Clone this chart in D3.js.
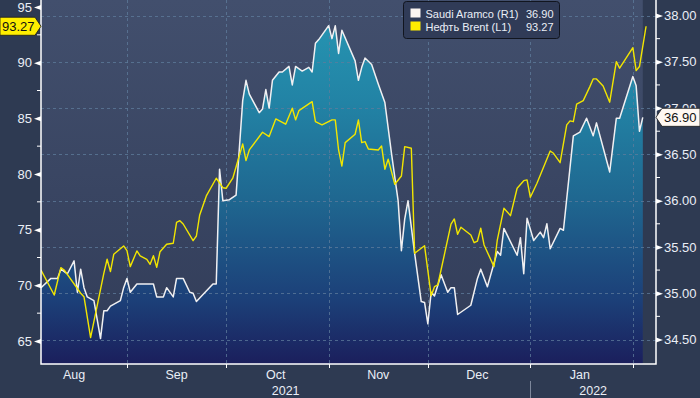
<!DOCTYPE html>
<html>
<head>
<meta charset="utf-8">
<script src="https://cdn.jsdelivr.net/npm/d3@7"></script>
<style>
  html, body { margin: 0; padding: 0; background: #2e3a52; }
  svg { display: block; font-family: "Liberation Sans", Arial, sans-serif; }
</style>
</head>
<body>
<div id="chart"></div>
<script>
// Saudi Aramco (right axis)
var aramcoDates = [
  "2021-08-06","2021-08-09","2021-08-11","2021-08-12","2021-08-14","2021-08-16","2021-08-17","2021-08-18",
  "2021-08-19","2021-08-20","2021-08-22","2021-08-24","2021-08-25","2021-08-26","2021-08-27","2021-08-30",
  "2021-08-31","2021-09-01","2021-09-02","2021-09-04","2021-09-09","2021-09-10","2021-09-12","2021-09-13",
  "2021-09-15","2021-09-16","2021-09-18","2021-09-20","2021-09-21","2021-09-22","2021-09-27","2021-09-28",
  "2021-09-29","2021-09-30","2021-10-02","2021-10-04","2021-10-06","2021-10-07","2021-10-08","2021-10-11",
  "2021-10-12","2021-10-13","2021-10-14","2021-10-15","2021-10-17","2021-10-18","2021-10-20","2021-10-21",
  "2021-10-22","2021-10-24","2021-10-26","2021-10-27","2021-10-28","2021-10-29","2021-11-01","2021-11-02",
  "2021-11-03","2021-11-04","2021-11-05","2021-11-09","2021-11-10","2021-11-11","2021-11-12","2021-11-14",
  "2021-11-16","2021-11-18","2021-11-20","2021-11-22","2021-11-23","2021-11-24","2021-11-25","2021-11-27",
  "2021-11-29","2021-11-30","2021-12-01","2021-12-02","2021-12-03","2021-12-05","2021-12-07","2021-12-08",
  "2021-12-09","2021-12-10","2021-12-14","2021-12-16","2021-12-17","2021-12-19","2021-12-22","2021-12-23",
  "2021-12-24","2021-12-28","2021-12-29","2021-12-30","2021-12-31","2022-01-02","2022-01-04","2022-01-05",
  "2022-01-06","2022-01-07","2022-01-10","2022-01-11","2022-01-14","2022-01-16","2022-01-18","2022-01-20",
  "2022-01-21","2022-01-25","2022-01-27","2022-01-28","2022-02-01","2022-02-02","2022-02-03","2022-02-04"
];
var aramcoValues = [
  35.06, 35.16, 35.16, 35.26, 35.21, 35.35, 35.01, 35.26,
  35.06, 34.96, 34.92, 34.51, 34.81, 34.81, 34.86, 34.92,
  35.06, 35.16, 35.01, 35.10, 35.10, 34.96, 34.96, 35.06,
  34.96, 35.16, 35.16, 35.01, 35.00, 34.91, 35.10, 35.10,
  36.34, 36.00, 36.01, 36.06, 37.08, 37.30, 37.15, 36.95,
  36.99, 37.20, 37.00, 37.30, 37.39, 37.39, 37.45, 37.25,
  37.45, 37.40, 37.44, 37.39, 37.70, 37.74, 37.89, 37.75,
  37.89, 37.59, 37.84, 37.51, 37.30, 37.44, 37.54, 37.47,
  37.26, 37.06, 36.51, 36.00, 35.46, 35.80, 36.00, 35.43,
  34.91, 34.90, 34.67, 35.01, 34.97, 35.20, 35.01, 35.06,
  35.06, 34.77, 34.87, 35.16, 35.26, 35.07, 35.45, 35.41,
  35.70, 35.41, 35.60, 35.21, 35.81, 35.57, 35.66, 35.60,
  35.75, 35.48, 35.70, 35.68, 36.70, 36.74, 36.89, 36.70,
  36.84, 36.31, 36.89, 36.89, 37.34, 37.24, 36.75, 36.90
];

// Brent (left axis)
var brentDates = [
  "2021-08-06","2021-08-10","2021-08-12","2021-08-13","2021-08-18","2021-08-19","2021-08-21","2021-08-25",
  "2021-08-26","2021-08-27","2021-08-28","2021-08-31","2021-09-01","2021-09-02","2021-09-04","2021-09-05",
  "2021-09-07","2021-09-08","2021-09-09","2021-09-10","2021-09-11","2021-09-13","2021-09-15","2021-09-16",
  "2021-09-17","2021-09-18","2021-09-21","2021-09-22","2021-09-23","2021-09-25","2021-09-28","2021-09-30",
  "2021-10-01","2021-10-03","2021-10-06","2021-10-07","2021-10-08","2021-10-12","2021-10-14","2021-10-16",
  "2021-10-19","2021-10-21","2021-10-22","2021-10-23","2021-10-27","2021-10-28","2021-10-30","2021-11-02",
  "2021-11-03","2021-11-04","2021-11-05","2021-11-06","2021-11-09","2021-11-10","2021-11-11","2021-11-12",
  "2021-11-13","2021-11-16","2021-11-17","2021-11-18","2021-11-19","2021-11-21","2021-11-23","2021-11-24",
  "2021-11-26","2021-11-27","2021-11-30","2021-12-02","2021-12-03","2021-12-04","2021-12-08","2021-12-09",
  "2021-12-10","2021-12-11","2021-12-14","2021-12-15","2021-12-16","2021-12-17","2021-12-18","2021-12-21",
  "2021-12-22","2021-12-24","2021-12-26","2021-12-28","2021-12-30","2021-12-31","2022-01-01","2022-01-03",
  "2022-01-07","2022-01-08","2022-01-10","2022-01-12","2022-01-13","2022-01-14","2022-01-15","2022-01-17",
  "2022-01-19","2022-01-20","2022-01-21","2022-01-23","2022-01-25","2022-01-27","2022-01-28","2022-02-01",
  "2022-02-02","2022-02-03","2022-02-05"
];
var brentValues = [
  71.38, 69.13, 71.59, 71.38, 69.29, 68.98, 65.30, 71.08,
  72.34, 71.23, 72.79, 73.54, 73.11, 71.68, 73.09, 72.64,
  72.34, 71.89, 72.66, 71.62, 73.02, 73.69, 73.78, 75.66,
  75.81, 75.51, 74.01, 74.43, 76.32, 78.03, 79.62, 78.77,
  78.72, 79.62, 82.70, 81.20, 82.16, 83.75, 83.36, 84.95,
  84.47, 85.91, 84.86, 85.69, 86.50, 84.70, 84.41, 84.86,
  84.86, 82.16, 80.72, 82.82, 83.57, 84.86, 82.82, 82.91,
  82.25, 82.16, 82.52, 80.43, 81.33, 79.08, 79.82, 82.46,
  82.31, 72.88, 73.56, 69.07, 69.88, 70.03, 75.49, 75.96,
  74.59, 75.22, 74.52, 73.83, 73.98, 75.13, 73.63, 71.68,
  74.07, 76.92, 76.26, 78.72, 79.40, 79.47, 77.91, 79.17,
  82.07, 81.86, 81.02, 84.41, 84.77, 84.70, 86.27, 86.59,
  87.85, 88.54, 88.54, 87.91, 86.45, 90.09, 89.50, 91.35,
  89.29, 89.65, 93.27
];

var leftTicks = [65, 70, 75, 80, 85, 90, 95];
var leftMinor = [67.5, 72.5, 77.5, 82.5, 87.5, 92.5];
var rightTicks = [34.5, 35, 35.5, 36, 36.5, 37, 37.5, 38];
var rightMinor = [34.75, 35.25, 35.75, 36.25, 36.75, 37.25, 37.75];
var monthStarts = ["2021-09-01", "2021-10-01", "2021-11-01", "2021-12-01", "2022-01-01", "2022-02-01"];
var monthLabels = ["Aug", "Sep", "Oct", "Nov", "Dec", "Jan"];
var monthMids = ["2021-08-16", "2021-09-16", "2021-10-16", "2021-11-16", "2021-12-16", "2022-01-16"];
var yearLabels = ["2021", "2022"];
var legendNames = ["Saudi Aramco (R1)", "Нефть Brent (L1)"];

var parse = d3.utcParse("%Y-%m-%d");
var aramco = aramcoDates.map(function (d, i) { return { date: parse(d), v: aramcoValues[i] }; });
var brent = brentDates.map(function (d, i) { return { date: parse(d), v: brentValues[i] }; });

var width = 700, height = 398;
var pLeft = 41, pRight = 656, pTop = 0, pBottom = 364;

var svg = d3.select("#chart").append("svg")
  .attr("width", width)
  .attr("height", height);

var defs = svg.append("defs");
var bg = defs.append("linearGradient").attr("id", "bgGrad")
  .attr("x1", 0).attr("y1", 0).attr("x2", 0).attr("y2", 1);
bg.append("stop").attr("offset", 0).attr("stop-color", "#424f6d");
bg.append("stop").attr("offset", 1).attr("stop-color", "#313c58");

var ag = defs.append("linearGradient").attr("id", "areaGrad")
  .attr("gradientUnits", "userSpaceOnUse")
  .attr("x1", 0).attr("y1", 15).attr("x2", 0).attr("y2", pBottom);
[[0, "#2695b2"], [0.25, "#2283a5"], [0.53, "#1f6790"], [0.82, "#1c3f78"], [1, "#1b1f5c"]]
  .forEach(function (s) { ag.append("stop").attr("offset", s[0]).attr("stop-color", s[1]); });

defs.append("clipPath").attr("id", "plotClip")
  .append("rect").attr("x", pLeft).attr("y", pTop).attr("width", pRight - pLeft).attr("height", pBottom - pTop);

// scales
var x = d3.scaleUtc()
  .domain([new Date(Date.UTC(2021, 7, 6)), new Date(Date.UTC(2022, 1, 8))])
  .range([pLeft, pRight]);
var yL = d3.scaleLinear().domain([65, 95]).range([341, 7]);
var yR = d3.scaleLinear().domain([34.5, 38]).range([339.5, 15.5]);

svg.append("rect").attr("width", width).attr("height", height).attr("fill", "#2e3a52");
svg.append("rect")
  .attr("x", pLeft).attr("y", pTop)
  .attr("width", x(aramco[aramco.length - 1].date) - pLeft)
  .attr("height", pBottom - pTop)
  .attr("fill", "url(#bgGrad)");

var plot = svg.append("g").attr("clip-path", "url(#plotClip)");

// area under Saudi Aramco
plot.append("path")
  .datum(aramco)
  .attr("fill", "url(#areaGrad)")
  .attr("d", d3.area().x(function (d) { return x(d.date); }).y0(pBottom).y1(function (d) { return yR(d.v); }));

// grid
plot.append("g").selectAll("line").data(rightTicks).join("line")
  .attr("x1", pLeft).attr("x2", pRight)
  .attr("y1", function (d) { return Math.round(yR(d)) + 0.5; })
  .attr("y2", function (d) { return Math.round(yR(d)) + 0.5; })
  .attr("stroke", "#5f7c9c").attr("stroke-opacity", 0.75)
  .attr("stroke-dasharray", "3,3");
plot.append("g").selectAll("line").data(monthStarts).join("line")
  .attr("x1", function (d) { return Math.round(x(parse(d))) + 0.5; })
  .attr("x2", function (d) { return Math.round(x(parse(d))) + 0.5; })
  .attr("y1", pTop).attr("y2", pBottom)
  .attr("stroke", "#5f7c9c").attr("stroke-opacity", 0.75)
  .attr("stroke-dasharray", "3,3");

// lines
plot.append("path")
  .datum(aramco)
  .attr("fill", "none")
  .attr("stroke", "#f0f0f2")
  .attr("stroke-width", 1.5)
  .attr("stroke-linejoin", "round")
  .attr("d", d3.line().x(function (d) { return x(d.date); }).y(function (d) { return yR(d.v); }));
plot.append("path")
  .datum(brent)
  .attr("fill", "none")
  .attr("stroke", "#f2e600")
  .attr("stroke-width", 1.4)
  .attr("stroke-linejoin", "round")
  .attr("d", d3.line().x(function (d) { return x(d.date); }).y(function (d) { return yL(d.v); }));

// axes
var labelColor = "#eaeef6";
var gL = svg.append("g").attr("transform", "translate(" + pLeft + ",0)")
  .call(d3.axisLeft(yL).tickValues(leftTicks).tickSize(0).tickPadding(9).tickFormat(d3.format("d")));
gL.select(".domain").remove();
gL.selectAll("text").attr("fill", labelColor).attr("font-size", 13);
gL.selectAll(".tick").append("path").attr("d", "M0,-2.5L-7,0L0,2.5Z").attr("fill", "#ffffff");

var gR = svg.append("g").attr("transform", "translate(" + pRight + ",0)")
  .call(d3.axisRight(yR).tickValues(rightTicks).tickSize(0).tickPadding(8).tickFormat(d3.format(".2f")));
gR.select(".domain").remove();
gR.selectAll("text").attr("fill", labelColor).attr("font-size", 13);
gR.selectAll(".tick").append("path").attr("d", "M0,-2.5L7,0L0,2.5Z").attr("fill", "#ffffff");

svg.append("g").selectAll("line").data(leftMinor).join("line")
  .attr("x1", pLeft - 4).attr("x2", pLeft)
  .attr("y1", function (d) { return yL(d); }).attr("y2", function (d) { return yL(d); })
  .attr("stroke", "#ffffff");
svg.append("g").selectAll("line").data(rightMinor).join("line")
  .attr("x1", pRight).attr("x2", pRight + 4)
  .attr("y1", function (d) { return yR(d); }).attr("y2", function (d) { return yR(d); })
  .attr("stroke", "#ffffff");

// axis frame
svg.append("path")
  .attr("d", "M" + pLeft + ",0V" + pBottom + "H" + pRight + "V0")
  .attr("fill", "none").attr("stroke", "#ffffff").attr("stroke-width", 1.5);

// bottom ticks and labels
svg.append("g").selectAll("line").data(monthStarts).join("line")
  .attr("x1", function (d) { return Math.round(x(parse(d))) + 0.5; })
  .attr("x2", function (d) { return Math.round(x(parse(d))) + 0.5; })
  .attr("y1", pBottom).attr("y2", pBottom + 4)
  .attr("stroke", "#ffffff");
svg.append("g").selectAll("text").data(monthLabels).join("text")
  .attr("x", function (d, i) { return x(parse(monthMids[i])); })
  .attr("y", 379)
  .attr("text-anchor", "middle")
  .attr("font-size", 12.5)
  .attr("fill", labelColor)
  .text(function (d) { return d; });

var yearBreak = x(parse("2022-01-01"));
svg.append("g").selectAll("text").data(yearLabels).join("text")
  .attr("x", function (d, i) { return i === 0 ? (pLeft + yearBreak) / 2 : (yearBreak + pRight) / 2; })
  .attr("y", 395)
  .attr("text-anchor", "middle")
  .attr("font-size", 12.5)
  .attr("fill", labelColor)
  .text(function (d) { return d; });
svg.append("line")
  .attr("x1", Math.round(yearBreak) + 0.5).attr("x2", Math.round(yearBreak) + 0.5)
  .attr("y1", 381).attr("y2", height)
  .attr("stroke", "#7d879b");

// legend
var lastA = aramcoValues[aramcoValues.length - 1];
var lastB = brentValues[brentValues.length - 1];
var legend = svg.append("g").attr("transform", "translate(403.5,1.5)");
legend.append("rect")
  .attr("width", 156).attr("height", 37).attr("rx", 3)
  .attr("fill", "#303b57").attr("stroke", "#11151f");
var rows = legend.selectAll("g.row").data(legendNames).join("g")
  .attr("class", "row")
  .attr("transform", function (d, i) { return "translate(0," + (i * 13) + ")"; });
rows.append("rect")
  .attr("x", 7).attr("y", 7).attr("width", 10).attr("height", 9)
  .attr("fill", function (d, i) { return i === 0 ? "#fbf5f2" : "#ffee00"; });
rows.append("text")
  .attr("x", 22).attr("y", 16)
  .attr("font-size", 11).attr("fill", labelColor)
  .text(function (d) { return d; });
rows.append("text")
  .attr("x", 150).attr("y", 16)
  .attr("text-anchor", "end")
  .attr("font-size", 11).attr("fill", labelColor)
  .text(function (d, i) { return (i === 0 ? lastA : lastB).toFixed(2); });

// last value tags
var by = yL(lastB);
svg.append("path")
  .attr("d", "M0," + (by - 9) + "H35L41," + by + "L35," + (by + 9) + "H0Z")
  .attr("fill", "#ffee00").attr("stroke", "#1a1a1a").attr("stroke-width", 0.8);
svg.append("text")
  .attr("x", 2).attr("y", by + 4.5)
  .attr("font-size", 13).attr("fill", "#111111")
  .text(lastB.toFixed(2));

var ay = yR(lastA);
svg.append("path")
  .attr("d", "M" + pRight + "," + ay + "L" + (pRight + 6) + "," + (ay - 9) + "H700V" + (ay + 9) + "H" + (pRight + 6) + "Z")
  .attr("fill", "#fff8f2").attr("stroke", "#1a1a1a").attr("stroke-width", 0.8);
svg.append("text")
  .attr("x", 664).attr("y", ay + 4.5)
  .attr("font-size", 13).attr("fill", "#111111")
  .text(lastA.toFixed(2));
</script>
</body>
</html>
